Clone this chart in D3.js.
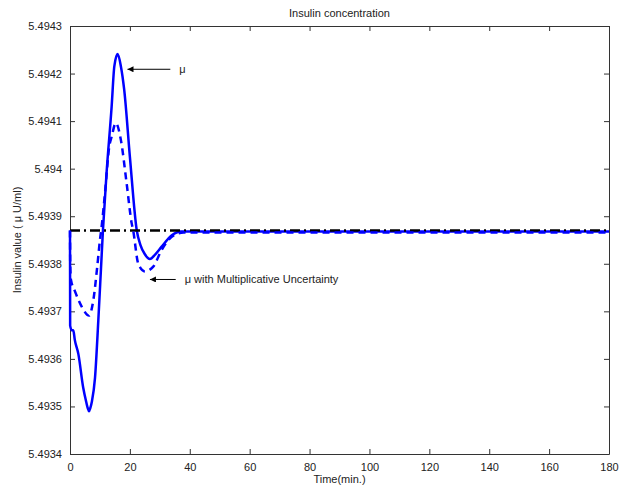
<!DOCTYPE html>
<html>
<head>
<meta charset="utf-8">
<script src="https://cdn.jsdelivr.net/npm/d3@7"></script>
<style>
body { margin: 0; background: #fff; }
svg { font-family: 'Liberation Sans', Arial, sans-serif; }
.tick text { font-size: 11px; fill: #222; }
.domain, .tick line { stroke: #333; }
</style>
</head>
<body>
<svg id="chart"></svg>
<script>
'use strict';
//Time points and insulin values.
const muTime = [0, 0.05, 0.6, 1.1, 1.6, 2.8, 4.4, 5.4, 5.9, 6.35, 6.8, 7.3, 8.35, 9.45, 10.35, 11.0, 12.2, 13.9, 14.8, 15.9, 17.0, 18.1, 20.0, 22.3, 23.5, 25.0, 26.7, 28.5, 30.6, 34, 37, 40, 180];
const muValue = [5.49387, 5.49367, 5.49366, 5.49366, 5.49364, 5.49361, 5.49354, 5.49351, 5.493497, 5.49349, 5.493497, 5.49351, 5.49356, 5.49368, 5.49379, 5.49387, 5.49399, 5.49413, 5.494215, 5.494241, 5.494215, 5.494166, 5.494025, 5.49387, 5.49384, 5.49382, 5.49381, 5.49382, 5.493836, 5.49386, 5.493868, 5.493868, 5.493868];
const uncTime = [0, 0.1, 0.33, 1.67, 3.9, 6.35, 7.8, 9.1, 10.0, 10.6, 11.7, 13.1, 13.9, 15.3, 17.0, 18.9, 20.6, 21.1, 22.8, 25.0, 27.8, 30.6, 34, 38, 180];
const uncValue = [5.49387, 5.49379, 5.493766, 5.493742, 5.49371, 5.493691, 5.493724, 5.493794, 5.49385, 5.49388, 5.49395, 5.494046, 5.494067, 5.494096, 5.49406, 5.49397, 5.493885, 5.49387, 5.4938, 5.493784, 5.493794, 5.493829, 5.493857, 5.493866, 5.493866];
const refTime = [0, 180];
const refValue = [5.49387, 5.49387];
const xTicks = [0, 20, 40, 60, 80, 100, 120, 140, 160, 180];
const yTicks = [5.4934, 5.4935, 5.4936, 5.4937, 5.4938, 5.4939, 5.494, 5.4941, 5.4942, 5.4943];

const width = 619, height = 487;
const m = {left: 70, right: 10, top: 26, bottom: 33};
const svg = d3.select('#chart').attr('width', width).attr('height', height);

const x = d3.scaleLinear().domain([0, 180]).range([m.left, width - m.right]);
const y = d3.scaleLinear().domain([5.4934, 5.4943]).range([height - m.bottom, m.top]);

//Box with ticks pointing inwards on all four sides.
svg.append('g').attr('transform', `translate(0,${height - m.bottom})`)
	.call(d3.axisBottom(x).tickValues(xTicks).tickSizeInner(-5).tickSizeOuter(0).tickPadding(9));
svg.append('g').attr('transform', `translate(0,${m.top})`)
	.call(d3.axisTop(x).tickValues(xTicks).tickSizeInner(-5).tickSizeOuter(0).tickFormat(''));
svg.append('g').attr('transform', `translate(${m.left},0)`)
	.call(d3.axisLeft(y).tickValues(yTicks).tickSizeInner(-5).tickSizeOuter(0).tickPadding(8).tickFormat(d3.format('')));
svg.append('g').attr('transform', `translate(${width - m.right},0)`)
	.call(d3.axisRight(y).tickValues(yTicks).tickSizeInner(-5).tickSizeOuter(0).tickFormat(''));
svg.selectAll('.tick text').attr('fill', '#222');

const line = (ts, vs, curve) => d3.line()
	.x((d, i) => x(ts[i]))
	.y(d => y(d))
	.curve(curve)(vs);

svg.append('path')
	.attr('d', line(muTime, muValue, d3.curveMonotoneX))
	.attr('fill', 'none').attr('stroke', '#0000ff').attr('stroke-width', 2.5);
svg.append('path')
	.attr('d', line(refTime, refValue, d3.curveLinear))
	.attr('fill', 'none').attr('stroke', '#000').attr('stroke-width', 2.5)
	.attr('stroke-dasharray', '10,4,2,4');
svg.append('path')
	.attr('d', line(uncTime, uncValue, d3.curveMonotoneX))
	.attr('fill', 'none').attr('stroke', '#0000ff').attr('stroke-width', 2.5)
	.attr('stroke-dasharray', '7,5');

//Arrow annotations, head pointing left at the curve.
svg.append('defs').append('marker')
	.attr('id', 'head').attr('viewBox', '0 0 10 10')
	.attr('refX', 0).attr('refY', 5)
	.attr('markerWidth', 8).attr('markerHeight', 6)
	.attr('orient', 'auto')
	.append('path').attr('d', 'M0,5L10,0L10,10Z').attr('fill', '#000');

function note(x1, x2, yy, label) {
	svg.append('line')
		.attr('x1', x1).attr('y1', yy).attr('x2', x2).attr('y2', yy)
		.attr('stroke', '#000').attr('stroke-width', 1)
		.attr('marker-start', 'url(#head)');
	svg.append('text')
		.attr('x', x2 + 9).attr('y', yy + 4)
		.attr('font-size', 11).attr('fill', '#222')
		.text(label);
}
note(x(19.2), x(33.5), y(5.494209), 'μ');
note(x(26.7), x(35.3), y(5.493767), 'μ with Multiplicative Uncertainty');

//Title and axis labels.
svg.append('text')
	.attr('x', (m.left + width - m.right) / 2).attr('y', 17)
	.attr('text-anchor', 'middle').attr('font-size', 11).attr('fill', '#222')
	.text('Insulin concentration');
svg.append('text')
	.attr('x', (m.left + width - m.right) / 2).attr('y', 483)
	.attr('text-anchor', 'middle').attr('font-size', 11).attr('fill', '#222')
	.text('Time(min.)');
svg.append('text')
	.attr('transform', `translate(21,${(m.top + height - m.bottom) / 2}) rotate(-90)`)
	.attr('text-anchor', 'middle').attr('font-size', 11).attr('fill', '#222')
	.text('Insulin value ( μ U/ml)');
</script>
</body>
</html>
